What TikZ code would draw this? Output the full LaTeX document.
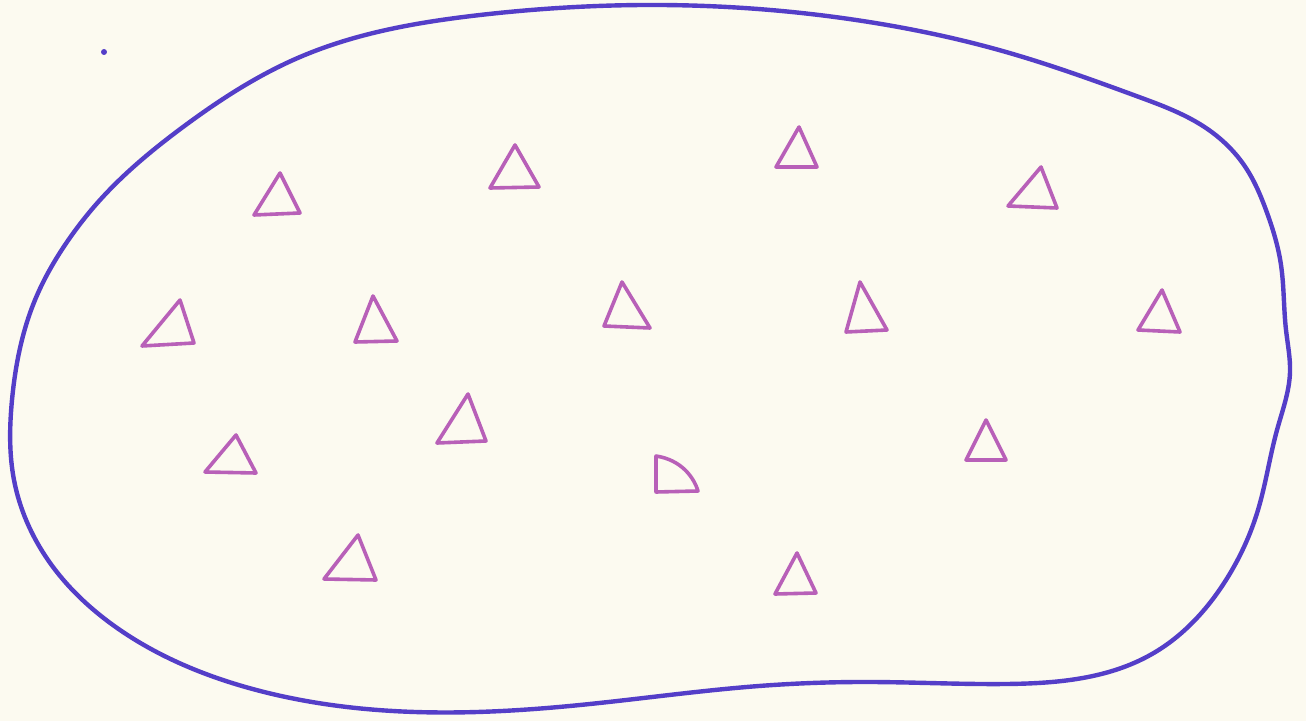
\documentclass[tikz,border=0pt]{standalone}
\usetikzlibrary{hobby}
\definecolor{paper}{RGB}{252,250,240}
\definecolor{inkblue}{RGB}{84,62,200}
\definecolor{inkpink}{RGB}{184,96,184}
\tikzset{
  outline/.style={draw=inkblue, line width=2.2pt, line join=round, line cap=round},
  tri/.style={draw=inkpink, line width=1.8pt, line join=round, line cap=round},
}
\begin{document}
\begin{tikzpicture}[x=0.5pt,y=-0.5pt]
\fill[paper] (0,0) rectangle (1306,721);
\useasboundingbox (0,0) rectangle (1306,721);
% blob outline
\draw[outline, use Hobby shortcut, closed=true]
 (660,5) .. (856,20) .. (1006,52) .. (1139,97) .. (1206,128) .. (1246,168)
 .. (1266,210) .. (1281,265) .. (1286,330) .. (1290,372) .. (1277,430)
 .. (1258,510) .. (1226,580) .. (1152,654) .. (1006,684) .. (870,682)
 .. (759,686) .. (580,705) .. (415,712) .. (249,688) .. (120,630) .. (48,560)
 .. (14,480) .. (12,400) .. (35,300) .. (67,242) .. (100,200) .. (183,127)
 .. (300,57) .. (480,15);
% speck
\fill[inkblue] (104,52) circle (3);
% triangles
\draw[tri] (280,173) -- (254,215) -- (300,213) -- cycle;
\draw[tri] (515,145) -- (490,188) -- (539,187) -- cycle;
\draw[tri] (799,127) -- (776,167) -- (817,167) -- cycle;
\draw[tri] (1041,167) -- (1008,206) -- (1057,208) -- cycle;
\draw[tri] (180,300) -- (142,346) -- (194,343) -- cycle;
\draw[tri] (373,296) -- (355,342) -- (397,341) -- cycle;
\draw[tri] (622,282) -- (604,326) -- (650,328) -- cycle;
\draw[tri] (860,282) -- (846,332) -- (887,330) -- cycle;
\draw[tri] (1162,290) -- (1138,330) -- (1180,332) -- cycle;
\draw[tri] (236,435) -- (205,472) -- (256,473) -- cycle;
\draw[tri] (468,394) -- (437,443) -- (486,441) -- cycle;
\draw[tri] (656,456) .. controls (682,460) and (694,478) .. (698,491) -- (656,492) -- cycle;
\draw[tri] (986,420) -- (966,460) -- (1006,460) -- cycle;
\draw[tri] (358,535) -- (324,579) -- (376,580) -- cycle;
\draw[tri] (797,553) -- (775,594) -- (816,593) -- cycle;
\end{tikzpicture}
\end{document}
